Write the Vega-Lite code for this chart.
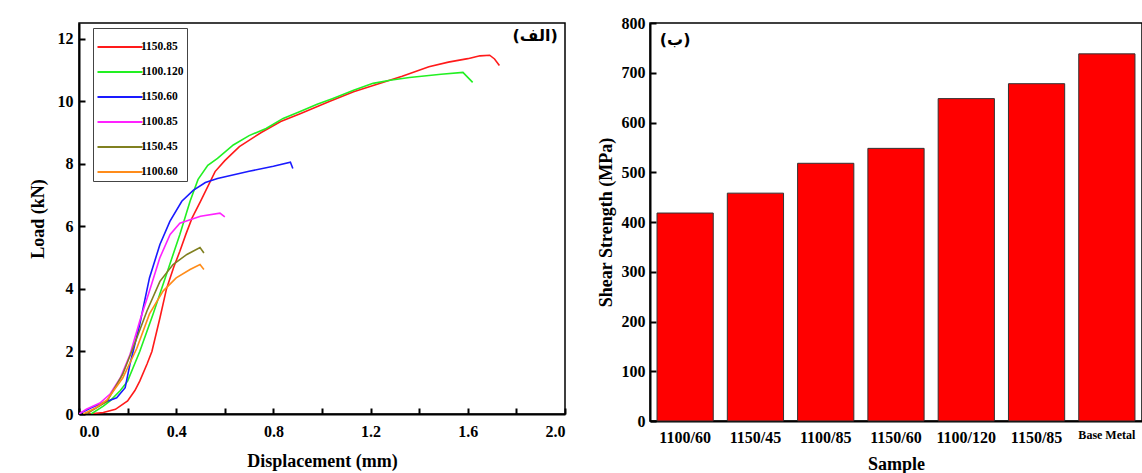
{
  "$schema": "https://vega.github.io/schema/vega-lite/v6.json",
  "background": "white",
  "padding": {"left": 28, "top": 14, "right": 0, "bottom": 0},
  "spacing": 85,
  "bounds": "flush",
  "datasets": {
    "curves": [
      {"s": "1150.85", "d": 0.04, "L": 0}, {"s": "1150.85", "d": 0.10, "L": 0.05}, {"s": "1150.85", "d": 0.15, "L": 0.15}, {"s": "1150.85", "d": 0.20, "L": 0.42}, {"s": "1150.85", "d": 0.23, "L": 0.75}, {"s": "1150.85", "d": 0.25, "L": 1.05}, {"s": "1150.85", "d": 0.28, "L": 1.6}, {"s": "1150.85", "d": 0.30, "L": 2.0}, {"s": "1150.85", "d": 0.333, "L": 3.07}, {"s": "1150.85", "d": 0.36, "L": 4.0}, {"s": "1150.85", "d": 0.39, "L": 4.7}, {"s": "1150.85", "d": 0.415, "L": 5.2}, {"s": "1150.85", "d": 0.44, "L": 5.75}, {"s": "1150.85", "d": 0.465, "L": 6.26}, {"s": "1150.85", "d": 0.50, "L": 6.8}, {"s": "1150.85", "d": 0.56, "L": 7.75}, {"s": "1150.85", "d": 0.60, "L": 8.1}, {"s": "1150.85", "d": 0.66, "L": 8.55}, {"s": "1150.85", "d": 0.75, "L": 9.0}, {"s": "1150.85", "d": 0.83, "L": 9.35}, {"s": "1150.85", "d": 0.91, "L": 9.6}, {"s": "1150.85", "d": 1.03, "L": 9.99}, {"s": "1150.85", "d": 1.13, "L": 10.3}, {"s": "1150.85", "d": 1.23, "L": 10.55}, {"s": "1150.85", "d": 1.33, "L": 10.8}, {"s": "1150.85", "d": 1.44, "L": 11.1}, {"s": "1150.85", "d": 1.52, "L": 11.25}, {"s": "1150.85", "d": 1.60, "L": 11.36}, {"s": "1150.85", "d": 1.65, "L": 11.45}, {"s": "1150.85", "d": 1.69, "L": 11.47}, {"s": "1150.85", "d": 1.71, "L": 11.35}, {"s": "1150.85", "d": 1.73, "L": 11.14},
      {"s": "1100.120", "d": 0.05, "L": 0}, {"s": "1100.120", "d": 0.10, "L": 0.25}, {"s": "1100.120", "d": 0.128, "L": 0.42}, {"s": "1100.120", "d": 0.17, "L": 0.75}, {"s": "1100.120", "d": 0.20, "L": 1.05}, {"s": "1100.120", "d": 0.25, "L": 2.0}, {"s": "1100.120", "d": 0.305, "L": 3.2}, {"s": "1100.120", "d": 0.36, "L": 4.47}, {"s": "1100.120", "d": 0.415, "L": 5.74}, {"s": "1100.120", "d": 0.457, "L": 6.8}, {"s": "1100.120", "d": 0.49, "L": 7.5}, {"s": "1100.120", "d": 0.53, "L": 7.95}, {"s": "1100.120", "d": 0.57, "L": 8.17}, {"s": "1100.120", "d": 0.635, "L": 8.6}, {"s": "1100.120", "d": 0.70, "L": 8.9}, {"s": "1100.120", "d": 0.77, "L": 9.13}, {"s": "1100.120", "d": 0.84, "L": 9.45}, {"s": "1100.120", "d": 0.91, "L": 9.67}, {"s": "1100.120", "d": 0.98, "L": 9.9}, {"s": "1100.120", "d": 1.045, "L": 10.09}, {"s": "1100.120", "d": 1.13, "L": 10.35}, {"s": "1100.120", "d": 1.21, "L": 10.57}, {"s": "1100.120", "d": 1.28, "L": 10.67}, {"s": "1100.120", "d": 1.36, "L": 10.76}, {"s": "1100.120", "d": 1.49, "L": 10.86}, {"s": "1100.120", "d": 1.58, "L": 10.92}, {"s": "1100.120", "d": 1.62, "L": 10.6},
      {"s": "1150.60", "d": 0.0, "L": 0}, {"s": "1150.60", "d": 0.05, "L": 0.2}, {"s": "1150.60", "d": 0.086, "L": 0.32}, {"s": "1150.60", "d": 0.155, "L": 0.52}, {"s": "1150.60", "d": 0.19, "L": 0.84}, {"s": "1150.60", "d": 0.21, "L": 1.6}, {"s": "1150.60", "d": 0.25, "L": 2.87}, {"s": "1150.60", "d": 0.29, "L": 4.35}, {"s": "1150.60", "d": 0.333, "L": 5.42}, {"s": "1150.60", "d": 0.374, "L": 6.16}, {"s": "1150.60", "d": 0.423, "L": 6.8}, {"s": "1150.60", "d": 0.47, "L": 7.15}, {"s": "1150.60", "d": 0.52, "L": 7.4}, {"s": "1150.60", "d": 0.57, "L": 7.53}, {"s": "1150.60", "d": 0.70, "L": 7.76}, {"s": "1150.60", "d": 0.80, "L": 7.92}, {"s": "1150.60", "d": 0.87, "L": 8.05}, {"s": "1150.60", "d": 0.88, "L": 7.85},
      {"s": "1100.85", "d": 0.0, "L": 0.0}, {"s": "1100.85", "d": 0.03, "L": 0.15}, {"s": "1100.85", "d": 0.086, "L": 0.35}, {"s": "1100.85", "d": 0.128, "L": 0.64}, {"s": "1100.85", "d": 0.17, "L": 1.15}, {"s": "1100.85", "d": 0.21, "L": 1.9}, {"s": "1100.85", "d": 0.25, "L": 2.97}, {"s": "1100.85", "d": 0.29, "L": 3.93}, {"s": "1100.85", "d": 0.333, "L": 5.0}, {"s": "1100.85", "d": 0.375, "L": 5.74}, {"s": "1100.85", "d": 0.415, "L": 6.1}, {"s": "1100.85", "d": 0.50, "L": 6.32}, {"s": "1100.85", "d": 0.58, "L": 6.42}, {"s": "1100.85", "d": 0.60, "L": 6.3},
      {"s": "1150.45", "d": 0.03, "L": 0}, {"s": "1150.45", "d": 0.115, "L": 0.4}, {"s": "1150.45", "d": 0.18, "L": 1.27}, {"s": "1150.45", "d": 0.222, "L": 2.1}, {"s": "1150.45", "d": 0.28, "L": 3.3}, {"s": "1150.45", "d": 0.333, "L": 4.24}, {"s": "1150.45", "d": 0.387, "L": 4.78}, {"s": "1150.45", "d": 0.444, "L": 5.1}, {"s": "1150.45", "d": 0.498, "L": 5.32}, {"s": "1150.45", "d": 0.514, "L": 5.15},
      {"s": "1100.60", "d": 0.017, "L": 0}, {"s": "1100.60", "d": 0.07, "L": 0.2}, {"s": "1100.60", "d": 0.115, "L": 0.45}, {"s": "1100.60", "d": 0.18, "L": 1.15}, {"s": "1100.60", "d": 0.238, "L": 2.1}, {"s": "1100.60", "d": 0.29, "L": 3.2}, {"s": "1100.60", "d": 0.346, "L": 3.93}, {"s": "1100.60", "d": 0.40, "L": 4.35}, {"s": "1100.60", "d": 0.457, "L": 4.62}, {"s": "1100.60", "d": 0.498, "L": 4.78}, {"s": "1100.60", "d": 0.514, "L": 4.62}
    ],
    "bars": [
      {"sample": "1100/60", "strength": 418},
      {"sample": "1150/45", "strength": 458},
      {"sample": "1100/85", "strength": 518},
      {"sample": "1150/60", "strength": 548},
      {"sample": "1100/120", "strength": 648},
      {"sample": "1150/85", "strength": 678},
      {"sample": "Base Metal", "strength": 738}
    ]
  },
  "hconcat": [
    {
      "width": 486,
      "height": 391,
      "layer": [
        {
          "data": {"name": "curves"},
          "mark": {"type": "line", "strokeWidth": 1.6, "clip": true},
          "encoding": {
            "x": {"field": "d", "type": "quantitative",
              "scale": {"domain": [0, 2], "nice": false, "zero": false},
              "axis": {"title": "Displacement (mm)",
                "values": [0, 0.2, 0.4, 0.6, 0.8, 1.0, 1.2, 1.4, 1.6, 1.8, 2.0],
                "labelExpr": "(round(datum.value*10)%4==0) ? format(datum.value,'.1f') : ''",
                "labelPadding": 15, "titlePadding": 13}},
            "y": {"field": "L", "type": "quantitative",
              "scale": {"domain": [0, 12.5], "nice": false},
              "axis": {"title": "Load (kN)", "values": [0, 2, 4, 6, 8, 10, 12], "labelPadding": 12, "titlePadding": 10}},
            "color": {"field": "s", "type": "nominal",
              "scale": {"domain": ["1150.85", "1100.120", "1150.60", "1100.85", "1150.45", "1100.60"],
                "range": ["#ff1a1a", "#22f022", "#1a1aff", "#ff22ff", "#808020", "#ff8c1a"]},
              "legend": {"title": null, "orient": "none", "legendX": 14, "legendY": 5,
                "symbolType": "M-1.5,0H1.5", "symbolSize": 900, "symbolStrokeWidth": 2,
                "labelFont": "Liberation Serif", "labelFontWeight": "bold", "labelFontSize": 11.5, "labelColor": "black",
                "strokeColor": "#444", "padding": 3, "labelOffset": 5, "symbolOffset": 8, "rowPadding": 3}}
          }
        },
        {
          "data": {"values": [{"t": "(الف)", "x": 1.97, "y": 12.1}]},
          "mark": {"type": "text", "align": "right", "baseline": "middle", "font": "DejaVu Sans", "fontWeight": "bold", "fontSize": 16, "color": "black"},
          "encoding": {
            "x": {"field": "x", "type": "quantitative"},
            "y": {"field": "y", "type": "quantitative"},
            "text": {"field": "t"}
          }
        }
      ]
    },
    {
      "width": 492,
      "height": 398,
      "layer": [
        {
          "data": {"name": "bars"},
          "mark": {"type": "bar", "color": "#ff0000", "stroke": "#333", "strokeWidth": 1},
          "encoding": {
            "x": {"field": "sample", "type": "nominal", "sort": null,
              "scale": {"paddingInner": 0.2, "paddingOuter": 0.1},
              "axis": {"title": "Sample", "labelAngle": 0, "labelPadding": 14, "titlePadding": 10,
                "labelFontSize": {"condition": {"test": "datum.value == 'Base Metal'", "value": 12}, "value": 16}}},
            "y": {"field": "strength", "type": "quantitative",
              "scale": {"domain": [0, 800], "nice": false},
              "axis": {"title": "Shear Strength (MPa)", "values": [0, 100, 200, 300, 400, 500, 600, 700, 800], "labelPadding": 11, "titlePadding": 6}}
          }
        },
        {
          "data": {"values": [{"t": "(ب)", "sample": "1100/60", "y": 765}]},
          "mark": {"type": "text", "align": "center", "baseline": "middle", "font": "DejaVu Sans", "fontWeight": "bold", "fontSize": 16, "color": "black", "dx": -10},
          "encoding": {
            "x": {"field": "sample", "type": "nominal", "sort": null},
            "y": {"field": "y", "type": "quantitative"},
            "text": {"field": "t"}
          }
        }
      ]
    }
  ],
  "config": {
    "view": {"stroke": "black", "strokeWidth": 1.5},
    "axis": {
      "grid": false,
      "domainColor": "black", "domainWidth": 2,
      "tickColor": "black", "tickWidth": 2, "tickSize": -6,
      "labelFont": "Liberation Serif", "labelFontWeight": "bold", "labelFontSize": 16, "labelColor": "black", "labelPadding": 8,
      "titleFont": "Liberation Serif", "titleFontWeight": "bold", "titleFontSize": 18, "titleColor": "black"
    }
  }
}
